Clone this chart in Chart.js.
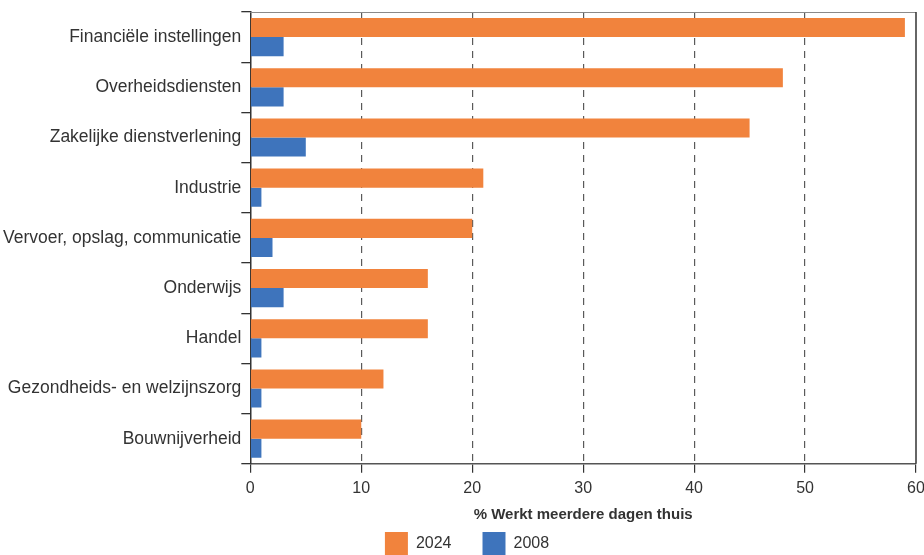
<!DOCTYPE html>
<html>
<head>
<meta charset="utf-8">
<script src="https://cdn.jsdelivr.net/npm/chart.js@4"></script>
<style>
    html, body { margin: 0; padding: 0; background: #ffffff; }
    #wrap { width: 924px; height: 555px; }
</style>
</head>
<body>
<div id="wrap"><canvas id="thuisChart" width="924" height="555"></canvas></div>
<script>
// sectoren en percentages
const sectoren = [
    'Financiële instellingen',
    'Overheidsdiensten',
    'Zakelijke dienstverlening',
    'Industrie',
    'Vervoer, opslag, communicatie',
    'Onderwijs',
    'Handel',
    'Gezondheids- en welzijnszorg',
    'Bouwnijverheid'
];
const waarden2024 = [59, 48, 45, 21, 20, 16, 16, 12, 10];
const waarden2008 = [3, 3, 5, 1, 2, 3, 1, 1, 1];
const xTicks = [0, 10, 20, 30, 40, 50, 60];

const tekstKleur = '#333333';
const lettertype = 'Liberation Sans, Arial, sans-serif';

// kader boven en rechts van het plotgebied
const kaderPlugin = {
    id: 'kader',
    afterDraw(chart) {
        const a = chart.chartArea;
        const ctx = chart.ctx;
        ctx.save();
        ctx.lineWidth = 1;
        ctx.strokeStyle = '#8a8a8a';
        ctx.beginPath();
        ctx.moveTo(a.left, a.top + 0.5);
        ctx.lineTo(a.right, a.top + 0.5);
        ctx.stroke();
        ctx.strokeStyle = '#333333';
        ctx.lineWidth = 1.5;
        ctx.beginPath();
        ctx.moveTo(a.right, a.top);
        ctx.lineTo(a.right, a.bottom);
        ctx.stroke();
        ctx.restore();
    }
};

new Chart(document.getElementById('thuisChart'), {
    type: 'bar',
    data: {
        labels: sectoren,
        datasets: [
            {
                label: '2024',
                data: waarden2024,
                backgroundColor: '#f1833d',
                borderWidth: 0
            },
            {
                label: '2008',
                data: waarden2008,
                backgroundColor: '#3e74bc',
                borderWidth: 0
            }
        ]
    },
    options: {
        indexAxis: 'y',
        responsive: false,
        animation: false,
        maintainAspectRatio: false,
        categoryPercentage: 0.76,
        barPercentage: 1.0,
        layout: { padding: { left: 3, right: -7, top: 12, bottom: -10 } },
        plugins: {
            tooltip: { enabled: false },
            legend: {
                position: 'bottom',
                labels: {
                    boxWidth: 23,
                    boxHeight: 23,
                    padding: 31,
                    color: tekstKleur,
                    font: { family: lettertype, size: 16 }
                }
            }
        },
        scales: {
            x: {
                min: 0,
                max: 60,
                afterBuildTicks: (axis) => { axis.ticks = xTicks.map(v => ({ value: v })); },
                // laat het label "60" over de rechtermarge lopen
                afterFit: (axis) => { axis.paddingRight = 8; },
                grid: {
                    color: (c) => (c.tick && (c.tick.value === 0 || c.tick.value === 60)) ? 'rgba(0,0,0,0)' : '#5a5a5a',
                    tickColor: '#333333',
                    tickLength: 9,
                    lineWidth: 1.2
                },
                border: { display: true, color: '#555555', width: 1.5, dash: [7, 6] },
                ticks: {
                    color: tekstKleur,
                    padding: 6,
                    font: { family: lettertype, size: 16 }
                },
                title: {
                    display: true,
                    text: '% Werkt meerdere dagen thuis',
                    color: tekstKleur,
                    padding: { top: 2, bottom: -23 },
                    font: { family: lettertype, size: 15, weight: 'bold' }
                }
            },
            y: {
                grid: {
                    offset: true,
                    drawOnChartArea: false,
                    tickLength: 9,
                    tickColor: '#333333',
                    lineWidth: 1.3
                },
                border: { display: true, color: '#333333', width: 1.5 },
                ticks: {
                    color: tekstKleur,
                    padding: 0,
                    font: { family: lettertype, size: 17.5 }
                }
            }
        }
    },
    plugins: [kaderPlugin]
});
</script>
</body>
</html>
